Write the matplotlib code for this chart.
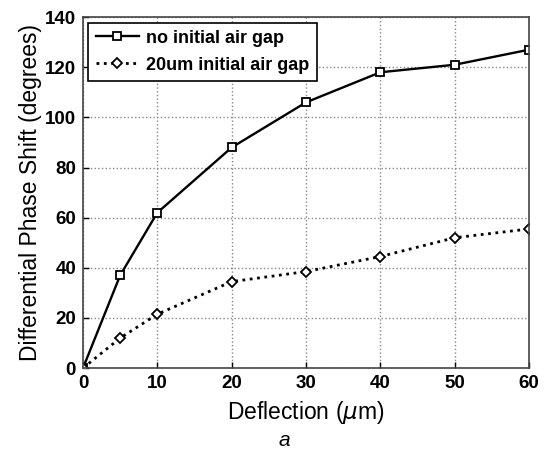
import matplotlib.pyplot as plt

deflection = [0, 5, 10, 20, 30, 40, 50, 60]
no_gap = [0, 37, 62, 88, 106, 118, 121, 127]
gap_20um = [0, 12, 21.5, 34.5, 38.5, 44.5, 52, 55.5]

x_ticks = [0, 10, 20, 30, 40, 50, 60]
y_ticks = [0, 20, 40, 60, 80, 100, 120, 140]

plt.rcParams['font.family'] = ['Liberation Sans', 'DejaVu Sans']

fig = plt.figure(figsize=(5.46, 4.5), dpi=100)
ax = fig.add_axes([0.152, 0.182, 0.817, 0.78])

ax.plot(deflection, no_gap, '-', color='black', lw=1.7, marker='s',
        ms=6, mfc='white', mec='black', mew=1.3, label='no initial air gap')
ax.plot(deflection, gap_20um, ':', color='black', lw=2.0, marker='D',
        ms=5, mfc='white', mec='black', mew=1.3, label='20um initial air gap')

ax.set_xlim(0, 60)
ax.set_ylim(0, 140)
ax.set_xticks(x_ticks)
ax.set_yticks(y_ticks)
ax.tick_params(direction='in', length=4, labelsize=13.5, width=1, pad=5)
for lab in ax.get_xticklabels() + ax.get_yticklabels():
    lab.set_fontweight('bold')
ax.grid(True, linestyle=':', color='#888888', lw=1.0)
for s in ax.spines.values():
    s.set_linewidth(1.2)
    s.set_color('#444444')

ax.set_xlabel('Deflection ($\\mu$m)', fontsize=16.5, labelpad=5)
ax.set_ylabel('Differential Phase Shift (degrees)', fontsize=16.5, labelpad=2)

leg = ax.legend(loc='upper left', fancybox=False, framealpha=1,
                edgecolor='black', handlelength=2.4, borderpad=0.4,
                labelspacing=0.55, borderaxespad=0.3, handletextpad=0.4,
                prop={'weight': 'bold', 'size': 13})
leg.get_frame().set_linewidth(1.2)

fig.text(0.52, 0.008, 'a', fontsize=15, style='italic', ha='center')

fig.savefig('out.png', dpi=100)
